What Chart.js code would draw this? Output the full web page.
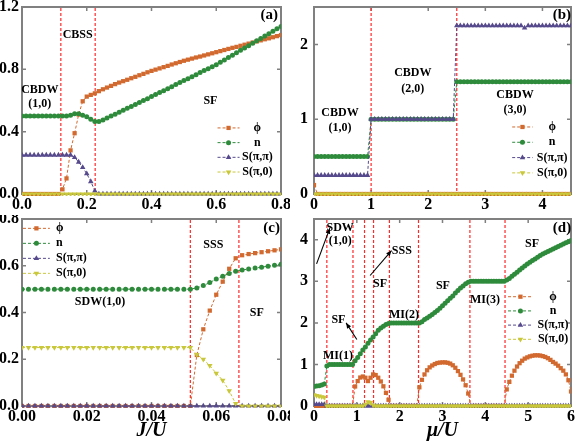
<!DOCTYPE html>
<html><head><meta charset="utf-8">
<script src="https://cdn.jsdelivr.net/npm/chart.js@4.4.1/dist/chart.umd.min.js"></script>
<style>
html,body{margin:0;padding:0;background:#fff;overflow:hidden;width:575px;height:443px}
canvas{position:absolute}
</style></head><body>
<canvas id="ca" width="290" height="215" style="left:0;top:0;width:290px;height:215px"></canvas>
<canvas id="cb" width="285" height="215" style="left:290px;top:0;width:285px;height:215px"></canvas>
<canvas id="cc" width="290" height="228" style="left:0;top:215px;width:290px;height:228px"></canvas>
<canvas id="cd" width="285" height="228" style="left:290px;top:215px;width:285px;height:228px"></canvas>
<script>
// ---------------- DATA ----------------
// Panel (a): J/U
const xA = [0,0.0125,0.025,0.0375,0.05,0.0625,0.075,0.0875,0.1,0.1125,
0.125,0.1375,0.15,0.1625,0.175,0.1875,0.2,0.2125,0.225,0.2375,
0.25,0.2625,0.275,0.2875,0.3,0.3125,0.325,0.3375,0.35,0.3625,
0.375,0.3875,0.4,0.4125,0.425,0.4375,0.45,0.4625,0.475,0.4875,
0.5,0.5125,0.525,0.5375,0.55,0.5625,0.575,0.5875,0.6,0.6125,
0.625,0.6375,0.65,0.6625,0.675,0.6875,0.7,0.7125,0.725,0.7375,
0.75,0.7625,0.775,0.7875,0.8];
const phiA = [0,0,0,0,0,0,0,0,0,0,
0.03,0.10,0.28,0.39,0.51,0.595,0.625,0.636,0.646,0.66,
0.672,0.683,0.694,0.705,0.715,0.724,0.733,0.743,0.752,0.762,
0.771,0.781,0.79,0.798,0.806,0.814,0.822,0.831,0.839,0.847,
0.855,0.862,0.869,0.876,0.882,0.889,0.896,0.903,0.91,0.917,
0.924,0.931,0.938,0.944,0.951,0.958,0.965,0.972,0.979,0.986,
0.993,0.999,1.006,1.013,1.02];
const nA = [0.5,0.5,0.5,0.5,0.5,0.5,0.5,0.5,0.5,0.5,
0.5,0.5,0.505,0.515,0.515,0.505,0.495,0.48,0.465,0.465,
0.475,0.487,0.5,0.512,0.525,0.537,0.55,0.562,0.575,0.587,
0.6,0.612,0.625,0.638,0.651,0.663,0.676,0.689,0.702,0.715,
0.728,0.74,0.753,0.766,0.779,0.792,0.804,0.817,0.83,0.845,
0.86,0.876,0.891,0.906,0.922,0.937,0.952,0.968,0.983,0.998,
1.014,1.029,1.044,1.06,1.075];
const sppA = [0.25,0.25,0.25,0.25,0.25,0.25,0.25,0.25,0.25,0.25,
0.25,0.25,0.25,0.235,0.205,0.17,0.13,0.08,0.02,0,
0,0,0,0,0,0,0,0,0,0,
0,0,0,0,0,0,0,0,0,0,
0,0,0,0,0,0,0,0,0,0,
0,0,0,0,0,0,0,0,0,0,
0,0,0,0,0];
const sp0A = [0,0,0,0,0,0,0,0,0,0,
0,0,0,0,0,0,0,0,0,0,
0,0,0,0,0,0,0,0,0,0,
0,0,0,0,0,0,0,0,0,0,
0,0,0,0,0,0,0,0,0,0,
0,0,0,0,0,0,0,0,0,0,
0,0,0,0,0];
const vlinesA = [0.12, 0.226];

// Panel (b): mu/U
const xB = [0,0.0625,0.125,0.1875,0.25,0.3125,0.375,0.4375,
0.5,0.5625,0.625,0.6875,0.75,0.8125,0.875,0.9375,
1,1.0625,1.125,1.1875,1.25,1.3125,1.375,1.4375,
1.5,1.5625,1.625,1.6875,1.75,1.8125,1.875,1.9375,
2,2.0625,2.125,2.1875,2.25,2.3125,2.375,2.4375,
2.5,2.5625,2.625,2.6875,2.75,2.8125,2.875,2.9375,
3,3.0625,3.125,3.1875,3.25,3.3125,3.375,3.4375,
3.5,3.5625,3.625,3.6875,3.75,3.8125,3.875,3.9375,
4,4.0625,4.125,4.1875,4.25,4.3125,4.375,4.4375,
4.5];
const phiB = [0.12,0,0,0,0,0,0,0,
0,0,0,0,0,0,0,0,
0,0,0,0,0,0,0,0,
0,0,0,0,0,0,0,0,
0,0,0,0,0,0,0,0,
0,0,0,0,0,0,0,0,
0,0,0,0,0,0,0,0,
0,0,0,0,0,0,0,0,
0,0,0,0,0,0,0,0,
0];
const nB = [0.5,0.5,0.5,0.5,0.5,0.5,0.5,0.5,
0.5,0.5,0.5,0.5,0.5,0.5,0.5,0.5,
1,1,1,1,1,1,1,1,
1,1,1,1,1,1,1,1,
1,1,1,1,1,1,1,1,
1.5,1.5,1.5,1.5,1.5,1.5,1.5,1.5,
1.5,1.5,1.5,1.5,1.5,1.5,1.5,1.5,
1.5,1.5,1.5,1.5,1.5,1.5,1.5,1.5,
1.5,1.5,1.5,1.5,1.5,1.5,1.5,1.5,
1.5];
const sppB = [0.25,0.25,0.25,0.25,0.25,0.25,0.25,0.25,
0.25,0.25,0.25,0.25,0.25,0.25,0.25,0.25,
1,1,1,1,1,1,1,1,
1,1,1,1,1,1,1,1,
1,1,1,1,1,1,1,1,
2.25,2.25,2.25,2.25,2.25,2.25,2.25,2.25,
2.25,2.25,2.25,2.25,2.25,2.25,2.25,2.25,
2.25,2.25,2.25,2.22,2.25,2.25,2.25,2.25,
2.25,2.25,2.25,2.25,2.25,2.25,2.25,2.25,
2.25];
const sp0B = [0,0,0,0,0,0,0,0,
0,0,0,0,0,0,0,0,
0,0,0,0,0,0,0,0,
0,0,0,0,0,0,0,0,
0,0,0,0,0,0,0,0,
0,0,0,0,0,0,0,0,
0,0,0,0,0,0,0,0,
0,0,0,0,0,0,0,0,
0,0,0,0,0,0,0,0,
0];
const vlinesB = [1, 2.5];

// Panel (c): J/U
const xC = [0,0.002,0.004,0.006,0.008,0.01,0.012,0.014,0.016,0.018,
0.02,0.022,0.024,0.026,0.028,0.03,0.032,0.034,0.036,0.038,
0.04,0.042,0.044,0.046,0.048,0.05,0.052,0.054,0.056,0.058,
0.06,0.062,0.064,0.066,0.068,0.07,0.072,0.074,0.076,0.078,
0.08];
const phiC = [0,0,0,0,0,0,0,0,0,0,
0,0,0,0,0,0,0,0,0,0,
0,0,0,0,0,0,0,0.218,0.328,0.408,
0.476,0.532,0.587,0.632,0.645,0.65,0.654,0.658,0.662,0.666,
0.67];
const nC = [0.5,0.5,0.5,0.5,0.5,0.5,0.5,0.5,0.5,0.5,
0.5,0.5,0.5,0.5,0.5,0.5,0.5,0.5,0.5,0.5,
0.5,0.5,0.5,0.5,0.5,0.5,0.5,0.505,0.515,0.528,
0.543,0.555,0.567,0.577,0.582,0.586,0.59,0.594,0.598,0.602,
0.606];
const sppC = [0,0,0,0,0,0,0,0,0,0,
0,0,0,0,0,0,0,0,0,0,
0,0,0,0,0,0,0,0,0,0,
0,0,0,0,0,0,0,0,0,0,
0];
const sp0C = [0.25,0.25,0.25,0.25,0.25,0.25,0.25,0.25,0.25,0.25,
0.25,0.25,0.25,0.25,0.25,0.25,0.25,0.25,0.25,0.25,
0.25,0.25,0.25,0.25,0.25,0.25,0.25,0.22,0.2,0.173,
0.14,0.11,0.065,0.01,0,0,0,0,0,0,
0];
const vlinesC = [0.052, 0.067];

// Panel (d): mu/U
const xD = [0,0.06,0.12,0.18,0.24,0.3,0.36,0.42,0.48,0.54,
0.6,0.66,0.72,0.78,0.84,0.9,0.96,1.02,1.08,1.14,
1.2,1.26,1.32,1.38,1.44,1.5,1.56,1.62,1.68,1.74,
1.8,1.86,1.92,1.98,2.04,2.1,2.16,2.22,2.28,2.34,
2.4,2.46,2.52,2.58,2.64,2.7,2.76,2.82,2.88,2.94,
3,3.06,3.12,3.18,3.24,3.3,3.36,3.42,3.48,3.54,
3.6,3.66,3.72,3.78,3.84,3.9,3.96,4.02,4.08,4.14,
4.2,4.26,4.32,4.38,4.44,4.5,4.56,4.62,4.68,4.74,
4.8,4.86,4.92,4.98,5.04,5.1,5.16,5.22,5.28,5.34,
5.4,5.46,5.52,5.58,5.64,5.7,5.76,5.82,5.88,5.94,
6];
const phiD = [0,0,0,0,0,0,0,0,0,0,
0,0,0,0,0,0,0.47,0.6,0.685,0.71,
0.68,0.6,0.68,0.76,0.745,0.68,0.59,0.474,0.315,0.15,
0,0,0,0,0,0,0,0,0,0,
0,0.45,0.63,0.76,0.86,0.93,0.975,1.01,1.035,1.045,
1.05,1.05,1.04,1.02,0.98,0.92,0.84,0.75,0.64,0.5,
0.3,0,0,0,0,0,0,0,0,0,
0,0,0,0,0,0.4,0.58,0.73,0.85,0.95,
1.03,1.09,1.14,1.17,1.195,1.21,1.22,1.22,1.215,1.2,
1.18,1.15,1.11,1.06,1.02,0.97,0.91,0.85,0.76,0.62,
0.35];
const nD = [0.47,0.48,0.49,0.505,0.53,0.96,1,1,1,1,
1,1,1,1,1,1,1.09,1.17,1.26,1.35,
1.42,1.51,1.59,1.66,1.74,1.82,1.88,1.92,1.96,1.985,
2,2,2,2,2,2,2,2,2,2,
2,2,2.03,2.08,2.12,2.16,2.2,2.25,2.3,2.35,
2.41,2.47,2.53,2.59,2.65,2.72,2.78,2.84,2.89,2.94,
2.98,3,3,3,3,3,3,3,3,3,
3,3,3,3,3,3.03,3.07,3.12,3.17,3.22,
3.27,3.32,3.37,3.42,3.46,3.5,3.54,3.58,3.62,3.66,
3.69,3.72,3.75,3.78,3.81,3.84,3.87,3.9,3.93,3.955,
3.98];
const sppD = [0.04,0.04,0.04,0.04,0.04,0,0,0,0,0,
0,0,0,0,0,0,0,0,0,0,
0,0,0,0,0,0,0,0,0,0,
0,0,0,0,0,0,0,0,0,0,
0,0,0,0,0,0,0,0,0,0,
0,0,0,0,0,0,0,0,0,0,
0,0,0,0,0,0,0,0,0,0,
0,0,0,0,0,0,0,0,0,0,
0,0,0,0,0,0,0,0,0,0,
0,0,0,0,0,0,0,0,0,0,
0];
const sp0D = [0.27,0.25,0.24,0.22,0.21,0,0,0,0,0,
0,0,0,0,0,0,0,0,0,0,
0.04,0.1,0.08,0.02,0,0,0,0,0,0,
0,0,0,0,0,0,0,0,0,0,
0,0,0,0,0,0,0,0,0,0,
0,0,0,0,0,0,0,0,0,0,
0,0,0,0,0,0,0,0,0,0,
0,0,0,0,0,0,0,0,0,0,
0,0,0,0,0,0,0,0,0,0,
0,0,0,0,0,0,0,0,0,0,
0];
const vlinesD = [0.3, 0.91, 1.18, 1.39, 1.76, 2.44, 3.64, 4.46];

const seriesNames = ['\u03D5', 'n', 'S(\u03C0,\u03C0)', 'S(\u03C0,0)'];

// ---------------- STYLE ----------------
const FONT = "'Liberation Serif','Times New Roman',serif";
const COLORS = ['#D2692F', '#2E8B3C', '#56498C', '#C9C73A'];
const STYLES = [
  {pointStyle:'rect', radius:3, rotation:0},
  {pointStyle:'circle', radius:2.5, rotation:0},
  {pointStyle:'triangle', radius:3.2, rotation:0},
  {pointStyle:'triangle', radius:3.2, rotation:180}
];
const C_RED = '#FF2A2A', C_FRAME = '#808080';

function mk(xs, ys){ return xs.map((x,i)=>({x:x, y:ys[i]})); }

function makeDatasets(xs, arrs){
  return arrs.map((ys, k) => ({
    label: seriesNames[k],
    data: mk(xs, ys),
    borderColor: COLORS[k], backgroundColor: COLORS[k],
    pointBackgroundColor: COLORS[k], pointBorderColor: COLORS[k],
    pointBorderWidth: 0, borderWidth: 1, borderDash: [3,2],
    pointStyle: STYLES[k].pointStyle, pointRadius: STYLES[k].radius,
    pointRotation: STYLES[k].rotation,
    tension: 0, fill: false, clip: {left: 0, top: 0, right: 0, bottom: 2}, order: 4 - k
  }));
}

const decoPlugin = {
  id: 'deco',
  beforeDatasetsDraw(chart, args, o){
    const ctx = chart.ctx, a = chart.chartArea, xs = chart.scales.x, ys = chart.scales.y;
    ctx.save();
    // frame
    ctx.strokeStyle = C_FRAME; ctx.lineWidth = 2;
    ctx.strokeRect(a.left, a.top, a.right - a.left, a.bottom - a.top);
    // inward ticks on all sides
    ctx.lineWidth = 1.5;
    const L = 4;
    xs.ticks.forEach(t => {
      const p = xs.getPixelForValue(t.value);
      ctx.beginPath();
      ctx.moveTo(p, a.bottom); ctx.lineTo(p, a.bottom - L);
      ctx.moveTo(p, a.top); ctx.lineTo(p, a.top + L);
      ctx.stroke();
    });
    ys.ticks.forEach(t => {
      const p = ys.getPixelForValue(t.value);
      ctx.beginPath();
      ctx.moveTo(a.left, p); ctx.lineTo(a.left + L, p);
      ctx.moveTo(a.right, p); ctx.lineTo(a.right - L, p);
      ctx.stroke();
    });
    // red dashed boundaries
    ctx.strokeStyle = C_RED; ctx.lineWidth = 1.2; ctx.setLineDash([3,2]);
    (o.vlines||[]).forEach(v => {
      const p = xs.getPixelForValue(v);
      ctx.beginPath(); ctx.moveTo(p, a.top + 1); ctx.lineTo(p, a.bottom); ctx.stroke();
    });
    ctx.setLineDash([]);
    ctx.restore();
  },
  afterDraw(chart, args, o){
    const ctx = chart.ctx, xs = chart.scales.x, ys = chart.scales.y;
    const X = v => xs.getPixelForValue(v), Y = v => ys.getPixelForValue(v);
    ctx.save();
    ctx.fillStyle = '#000'; ctx.textAlign = 'center'; ctx.textBaseline = 'middle';
    (o.texts||[]).forEach(t => {
      ctx.font = 'bold ' + (t.size||12) + 'px ' + FONT;
      ctx.fillText(t.t, X(t.x), Y(t.y));
    });
    // arrows
    ctx.strokeStyle = '#000'; ctx.lineWidth = 1.1;
    (o.arrows||[]).forEach(r => {
      const x1 = X(r.x1), y1 = Y(r.y1), x2 = X(r.x2), y2 = Y(r.y2);
      ctx.beginPath(); ctx.moveTo(x1, y1); ctx.lineTo(x2, y2); ctx.stroke();
      const ang = Math.atan2(y2 - y1, x2 - x1), h = 6, w = 0.4;
      ctx.beginPath();
      ctx.moveTo(x2, y2);
      ctx.lineTo(x2 - h*Math.cos(ang - w), y2 - h*Math.sin(ang - w));
      ctx.lineTo(x2 - h*Math.cos(ang + w), y2 - h*Math.sin(ang + w));
      ctx.closePath(); ctx.fill();
    });
    // legend
    const lg = o.legend;
    if (lg){
      chart.data.datasets.forEach((ds, k) => {
        const y = Y(lg.y0) + k*lg.dy;
        const x0 = X(lg.x0), x1 = X(lg.x1);
        ctx.strokeStyle = ds.borderColor; ctx.lineWidth = 1; ctx.setLineDash([3,2]);
        ctx.beginPath(); ctx.moveTo(x0, y); ctx.lineTo(x1, y); ctx.stroke();
        ctx.setLineDash([]);
        ctx.fillStyle = ds.borderColor;
        Chart.helpers.drawPoint(ctx, {pointStyle: ds.pointStyle, rotation: ds.pointRotation, radius: ds.pointRadius, borderWidth: 0}, (x0 + x1)/2, y);
        ctx.fillStyle = '#000';
        ctx.font = 'bold 12px ' + FONT;
        ctx.textAlign = lg.align || 'center';
        ctx.fillText(ds.label, X(lg.xt), y);
      });
    }
    ctx.restore();
  }
};
Chart.register(decoPlugin);

function makePanel(id, xs, arrs, cfg){
  const tickFont = {family: FONT, size: 16, weight: 'bold'};
  new Chart(document.getElementById(id), {
    type: 'line',
    data: {datasets: makeDatasets(xs, arrs)},
    options: {
      responsive: false, animation: false, events: [],
      layout: {padding: cfg.pad},
      plugins: {legend: {display: false}, tooltip: {enabled: false}, deco: cfg.deco},
      scales: {
        x: {type: 'linear', min: cfg.xmin, max: cfg.xmax,
          afterFit: s => { s.height = cfg.xh; s.paddingLeft = 0; s.paddingRight = 0; },
          grid: {display: false, drawTicks: false}, border: {display: false},
          ticks: {stepSize: cfg.xstep, includeBounds: false, autoSkip: false, maxRotation: 0, padding: cfg.xpad,
            color: '#000', font: tickFont, callback: v => v.toFixed(cfg.xdec)},
          title: {display: !!cfg.xtitle, text: cfg.xtitle || '', color: '#000', padding: 0,
            font: {family: FONT, size: 20, weight: 'bold', style: 'italic'}}
        },
        y: {type: 'linear', min: cfg.ymin, max: cfg.ymax,
          afterFit: s => { s.width = cfg.yw; s.paddingTop = 0; s.paddingBottom = 0; },
          grid: {display: false, drawTicks: false}, border: {display: false},
          ticks: {stepSize: cfg.ystep, includeBounds: false, autoSkip: false, padding: cfg.ypad,
            color: '#000', font: tickFont, callback: v => v.toFixed(cfg.ydec)}
        }
      }
    }
  });
}

makePanel('ca', xA, [phiA, nA, sppA, sp0A], {
  pad: {left: 0, right: 9, top: 7, bottom: 0}, xh: 21, yw: 22, xpad: 1, ypad: 3,
  xmin: 0, xmax: 0.8, xstep: 0.2, xdec: 1, ymin: 0, ymax: 1.2, ystep: 0.4, ydec: 1,
  deco: {
    vlines: vlinesA,
    texts: [
      {t: '(a)', x: 0.764, y: 1.15, size: 15},
      {t: 'CBSS', x: 0.172, y: 1.02},
      {t: 'CBDW', x: 0.055, y: 0.67},
      {t: '(1,0)', x: 0.055, y: 0.58},
      {t: 'SF', x: 0.582, y: 0.60}
    ],
    legend: {x0: 0.604, x1: 0.672, xt: 0.727, y0: 0.424, dy: 14.7, align: 'center'}
  }
});

makePanel('cb', xB, [phiB, nB, sppB, sp0B], {
  pad: {left: 0, right: 4, top: 7, bottom: 0}, xh: 21, yw: 24, xpad: 1, ypad: 6,
  xmin: 0, xmax: 4.5, xstep: 1, xdec: 0, ymin: 0, ymax: 2.5, ystep: 1, ydec: 0,
  deco: {
    vlines: vlinesB,
    texts: [
      {t: '(b)', x: 4.34, y: 2.39, size: 15},
      {t: 'CBDW', x: 0.455, y: 1.08},
      {t: '(1,0)', x: 0.455, y: 0.886},
      {t: 'CBDW', x: 1.73, y: 1.62},
      {t: '(2,0)', x: 1.73, y: 1.41},
      {t: 'CBDW', x: 3.52, y: 1.32},
      {t: '(3,0)', x: 3.52, y: 1.12}
    ],
    legend: {x0: 3.47, x1: 3.83, xt: 4.17, y0: 0.896, dy: 15.3, align: 'center'}
  }
});

makePanel('cc', xC, [phiC, nC, sppC, sp0C], {
  pad: {left: 0, right: 9, top: 2, bottom: 0}, xh: 37, yw: 22, xpad: 1, ypad: 3,
  xmin: 0, xmax: 0.08, xstep: 0.02, xdec: 2, ymin: 0, ymax: 0.8, ystep: 0.2, ydec: 1,
  xtitle: 'J/U',
  deco: {
    vlines: vlinesC,
    texts: [
      {t: '(c)', x: 0.0771, y: 0.759, size: 15},
      {t: 'SSS', x: 0.0591, y: 0.689},
      {t: 'SDW(1,0)', x: 0.0241, y: 0.446},
      {t: 'SF', x: 0.0725, y: 0.399}
    ],
    legend: {x0: 0.0003, x1: 0.0086, xt: 0.0105, y0: 0.76, dy: 15, align: 'left'}
  }
});

makePanel('cd', xD, [phiD, nD, sppD, sp0D], {
  pad: {left: 0, right: 4, top: 2, bottom: 0}, xh: 37, yw: 24, xpad: 1, ypad: 6,
  xmin: 0, xmax: 6, xstep: 1, xdec: 0, ymin: 0, ymax: 4.5, ystep: 1, ydec: 0,
  xtitle: '\u03BC/U',
  deco: {
    vlines: vlinesD,
    texts: [
      {t: '(d)', x: 5.79, y: 4.27, size: 15},
      {t: 'SDW', x: 0.61, y: 4.29},
      {t: '(1,0)', x: 0.61, y: 3.98},
      {t: 'SSS', x: 2.05, y: 3.74},
      {t: 'SF', x: 1.54, y: 2.94},
      {t: 'SF', x: 0.57, y: 2.08},
      {t: 'MI(1)', x: 0.56, y: 1.21},
      {t: 'MI(2)', x: 2.1, y: 2.2},
      {t: 'SF', x: 3.01, y: 2.89},
      {t: 'MI(3)', x: 3.99, y: 2.56},
      {t: 'SF', x: 5.09, y: 3.91}
    ],
    arrows: [
      {x1: 0.06, y1: 3.42, x2: 0.37, y2: 4.28},
      {x1: 1.31, y1: 3.14, x2: 1.81, y2: 3.74},
      {x1: 1.0, y1: 1.6, x2: 0.75, y2: 2.0}
    ],
    legend: {x0: 4.53, x1: 5.11, xt: 5.58, y0: 2.63, dy: 14.2, align: 'center'}
  }
});
</script>
</body></html>
